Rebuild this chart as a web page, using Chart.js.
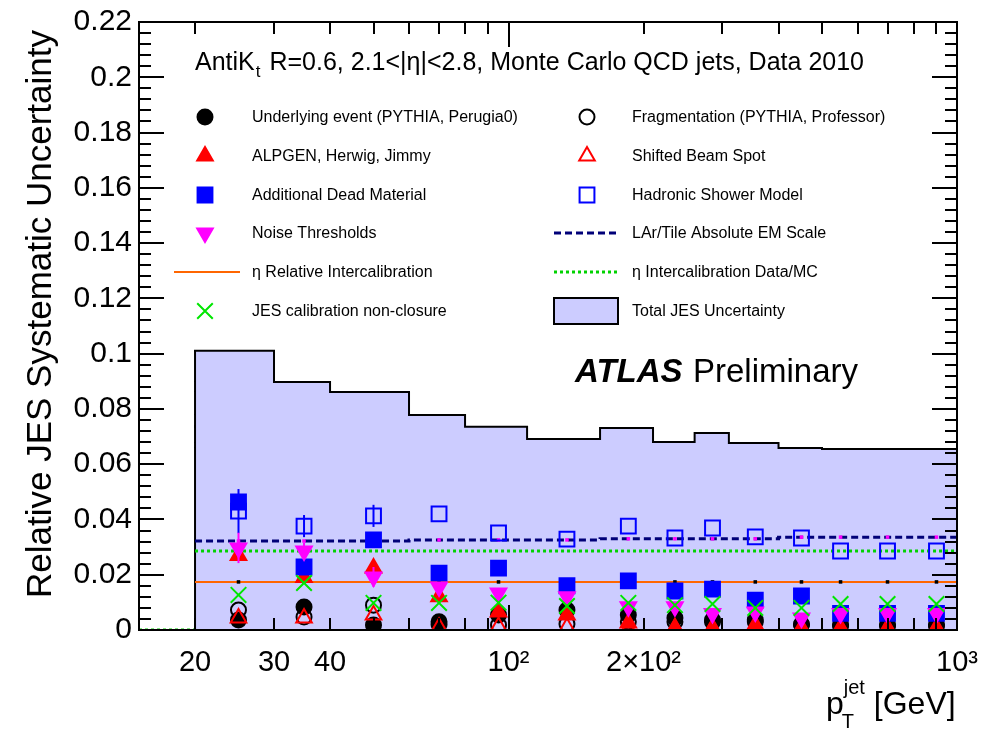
<!DOCTYPE html>
<html>
<head>
<meta charset="utf-8">
<title>JES uncertainty</title>
<script src="https://cdn.jsdelivr.net/npm/chart.js@4.4.1/dist/chart.umd.min.js"></script>
<style>
  html, body { margin: 0; padding: 0; background: #fff; }
  #wrap { width: 983px; height: 732px; }
</style>
</head>
<body>
<div id="wrap"><canvas id="jes" width="983" height="732"></canvas></div>
<script>
/* bins in pT (GeV) */
const binEdges = [20, 30, 40, 60, 80, 110, 160, 210, 260, 310, 400, 500, 600, 800, 1000];
const binCenters = [25, 35, 50, 70, 95, 135, 185, 235, 285, 355, 450, 550, 700, 900];

/* histogram-style components */
const totalJES = [0.101, 0.0897, 0.0861, 0.0778, 0.0735, 0.0691, 0.0731, 0.068, 0.0713, 0.0677, 0.0659, 0.0655, 0.0655, 0.0655];
const larTileEM = [0.0322, 0.0322, 0.0322, 0.0326, 0.0326, 0.0326, 0.033, 0.033, 0.033, 0.033, 0.0336, 0.0336, 0.0336, 0.0336];
const etaInterDataMC = [0.0286, 0.0286, 0.0286, 0.0286, 0.0286, 0.0286, 0.0286, 0.0286, 0.0286, 0.0286, 0.0286, 0.0286, 0.0286, 0.0286];
const etaRelInter = [0.0174, 0.0174, 0.0174, 0.0174, 0.0174, 0.0174, 0.0174, 0.0174, 0.0174, 0.0174, 0.0174, 0.0174, 0.0174, 0.0174];

/* marker components */
const underlyingEvent = [0.0036, 0.0083, 0.0018, 0.003, 0.0054, 0.0072, 0.0054, 0.0043, 0.003, 0.003, 0.002, 0.002, 0.002, 0.002];
const fragmentation = [0.0072, 0.0047, 0.009, 0.002, 0.0018, 0.0022, 0.003, 0.003, 0.0036, 0.0036, 0.002, 0.0015, 0.0015, 0.0015];
const alpgen = [0.027, 0.019, 0.0224, 0.012, 0.0065, 0.0054, 0.0025, 0.0008, 0.0008, 0.0018, 0.0008, 0.0008, 0.0008, 0.0008];
const beamSpot = [0.0043, 0.0043, 0.0054, 0.001, 0.0013, 0.001, 0.0005, 0.0005, 0.0005, 0.0005, 0.0004, 0.0004, 0.0004, 0.0004];
const deadMaterial = [0.0463, 0.0228, 0.0326, 0.0206, 0.0224, 0.016, 0.0178, 0.0141, 0.0148, 0.0108, 0.0123, 0.006, 0.006, 0.006];
const hadronicShower = [0.043, 0.0376, 0.0413, 0.042, 0.0351, 0.0329, 0.0376, 0.0333, 0.0369, 0.0337, 0.0333, 0.0286, 0.0286, 0.0286];
const hadronicShowerErr = [0.008, 0.004, 0.004, 0, 0, 0, 0, 0, 0, 0, 0, 0, 0, 0];
const noiseThresholds = [0.0297, 0.0286, 0.0192, 0.0156, 0.0134, 0.012, 0.0084, 0.0084, 0.006, 0.0065, 0.0043, 0.006, 0.006, 0.006];
const noiseThresholdsErr = [0.0055, 0.003, 0.0036, 0, 0, 0, 0, 0, 0, 0, 0, 0, 0, 0];
const nonClosure = [0.0127, 0.017, 0.0098, 0.0098, 0.0099, 0.0087, 0.0098, 0.009, 0.0094, 0.008, 0.008, 0.0094, 0.0094, 0.0094];

/* axis labels */
const xTickValues = [20, 30, 40, 100, 200, 1000];
const xTickLabels = ['20', '30', '40', '10\u00b2', '2\u00d710\u00b2', '10\u00b3'];

const FONT = '"Liberation Sans", Arial, Helvetica, sans-serif';

// step outline of the total band, rising at 20 GeV
function bandPoints(vals) {
  const pts = [{x: binEdges[0], y: 0}];
  vals.forEach((v, i) => pts.push({x: binEdges[i], y: v}));
  pts.push({x: binEdges[binEdges.length - 1], y: vals[vals.length - 1]});
  return pts;
}

// flat per-bin lines; optional zero stretch below 20 GeV
function stepPoints(vals, withUnderflow) {
  const pts = [];
  if (withUnderflow) pts.push({x: 15, y: 0}, {x: 20, y: 0}, {x: 20, y: null});
  vals.forEach((v, i) => pts.push({x: binEdges[i], y: v}));
  pts.push({x: binEdges[binEdges.length - 1], y: vals[vals.length - 1]});
  return pts;
}

function centerPoints(vals) {
  return binCenters.map((x, i) => ({x: x, y: vals[i]}));
}

function markerSet(label, vals, opts) {
  return Object.assign({
    type: 'scatter',
    label: label,
    data: centerPoints(vals),
    showLine: false,
    pointBorderWidth: 2
  }, opts);
}

const datasets = [
  { // 0
    type: 'line', label: 'Total JES Uncertainty', data: bandPoints(totalJES),
    stepped: 'before', fill: 'origin', backgroundColor: 'rgb(204,204,255)',
    borderColor: '#000', borderWidth: 2, pointRadius: 0, order: 100
  },
  { // 1
    type: 'line', label: 'LAr/Tile Absolute EM Scale', data: stepPoints(larTileEM, false),
    stepped: 'before', fill: false, borderColor: 'rgb(0,0,120)', borderWidth: 3,
    borderDash: [7, 4], pointRadius: 0, order: 60
  },
  { // 2
    type: 'line', label: '\u03b7 Relative Intercalibration', data: stepPoints(etaRelInter, true),
    stepped: 'before', fill: false, borderColor: 'rgb(255,102,0)', borderWidth: 2,
    pointRadius: 0, order: 61
  },
  { // 3
    type: 'line', label: '\u03b7 Intercalibration Data/MC', data: stepPoints(etaInterDataMC, true),
    stepped: 'before', fill: false, borderColor: 'rgb(0,210,0)', borderWidth: 3,
    borderDash: [3, 3], pointRadius: 0, order: 59
  },
  // small bin-centre dots sitting on the flat lines
  markerSet('', etaRelInter, {pointStyle: 'rect', pointRadius: 2.5, pointBorderWidth: 0,
    pointBackgroundColor: '#000', order: 58}),
  markerSet('', larTileEM, {pointStyle: 'rect', pointRadius: 2.5, pointBorderWidth: 0,
    pointBackgroundColor: 'rgb(255,0,255)', order: 58}),
  // 6..
  markerSet('Underlying event (PYTHIA, Perugia0)', underlyingEvent, {
    pointStyle: 'circle', pointRadius: 7.5, pointBackgroundColor: '#000', pointBorderColor: '#000', order: 20}),
  markerSet('Fragmentation (PYTHIA, Professor)', fragmentation, {
    pointStyle: 'circle', pointRadius: 7.5, pointBackgroundColor: 'rgba(0,0,0,0)', pointBorderColor: '#000', order: 19}),
  markerSet('ALPGEN, Herwig, Jimmy', alpgen, {
    pointStyle: 'triangle', pointRadius: 9, pointBackgroundColor: '#f00', pointBorderColor: '#f00', order: 18}),
  markerSet('Shifted Beam Spot', beamSpot, {
    pointStyle: 'triangle', pointRadius: 9, pointBackgroundColor: 'rgba(0,0,0,0)', pointBorderColor: '#f00', order: 17}),
  markerSet('Additional Dead Material', deadMaterial, {
    pointStyle: 'rect', pointRadius: 10.5, pointBackgroundColor: '#00f', pointBorderColor: '#00f', order: 16}),
  markerSet('Hadronic Shower Model', hadronicShower, {
    pointStyle: 'rect', pointRadius: 10.5, pointBackgroundColor: 'rgba(0,0,0,0)', pointBorderColor: '#00f',
    errors: hadronicShowerErr, order: 15}),
  markerSet('Noise Thresholds', noiseThresholds, {
    pointStyle: 'triangle', pointRotation: 180, pointRadius: 9, pointBackgroundColor: '#f0f', pointBorderColor: '#f0f',
    errors: noiseThresholdsErr, order: 14}),
  markerSet('JES calibration non-closure', nonClosure, {
    pointStyle: 'crossRot', pointRadius: 11, pointBorderColor: 'rgb(0,230,0)', pointBorderWidth: 2, order: 13})
];

// legend layout: [dataset index, column, row]
const legendRows = [117, 156, 195, 233, 272, 311];
const legendItems = [
  [6, 0, 0], [8, 0, 1], [10, 0, 2], [12, 0, 3], [2, 0, 4], [13, 0, 5],
  [7, 1, 0], [9, 1, 1], [11, 1, 2], [1, 1, 3], [3, 1, 4], [0, 1, 5]
];
const legendCols = [{sym: 205, text: 252, line: [174, 240]}, {sym: 587, text: 632, line: [554, 618]}];

// vertical error bars, drawn just before their markers
const errorBars = {
  id: 'errorBars',
  beforeDatasetDraw(chart, args) {
    const ds = chart.data.datasets[args.index];
    if (!ds.errors) return;
    const ctx = chart.ctx, xs = chart.scales.x, ys = chart.scales.y;
    ctx.save();
    ctx.strokeStyle = ds.pointBorderColor;
    ctx.lineWidth = 2;
    ds.data.forEach((p, i) => {
      const e = ds.errors[i];
      if (!e) return;
      const px = xs.getPixelForValue(p.x);
      ctx.beginPath();
      ctx.moveTo(px, ys.getPixelForValue(p.y - e));
      ctx.lineTo(px, ys.getPixelForValue(p.y + e));
      ctx.stroke();
    });
    ctx.restore();
  }
};

// frame, inward ticks, texts and legend
const decorations = {
  id: 'decorations',
  afterDraw(chart) {
    const ctx = chart.ctx, a = chart.chartArea, xs = chart.scales.x, ys = chart.scales.y;
    ctx.save();
    ctx.strokeStyle = '#000';
    ctx.fillStyle = '#000';
    ctx.lineWidth = 2;
    ctx.strokeRect(a.left, a.top, a.right - a.left, a.bottom - a.top);

    ctx.beginPath();
    for (let k = 0; k <= 55; k++) {
      const v = k * 0.004;
      const py = Math.round(ys.getPixelForValue(v));
      const len = (k % 5 === 0) ? 25 : 12;
      ctx.moveTo(a.left, py); ctx.lineTo(a.left + len, py);
      ctx.moveTo(a.right, py); ctx.lineTo(a.right - len, py);
    }
    [10, 100].forEach(dec => {
      for (let m = 1; m <= 9; m++) {
        const v = m * dec;
        if (v < 20 || v > 1000) continue;
        const px = Math.round(xs.getPixelForValue(v));
        const len = (m === 1) ? 25 : 12;
        ctx.moveTo(px, a.bottom); ctx.lineTo(px, a.bottom - len);
        ctx.moveTo(px, a.top); ctx.lineTo(px, a.top + len);
      }
    });
    ctx.stroke();

    // header line
    ctx.textBaseline = 'alphabetic';
    ctx.textAlign = 'left';
    ctx.font = '25px ' + FONT;
    let x = 195;
    ctx.fillText('AntiK', x, 70);
    x += ctx.measureText('AntiK').width;
    ctx.font = '17px ' + FONT;
    ctx.fillText('t', x + 1, 77);
    x += ctx.measureText('t').width + 3;
    ctx.font = '25px ' + FONT;
    ctx.fillText(' R=0.6, 2.1<|\u03b7|<2.8, Monte Carlo QCD jets, Data 2010', x, 70);

    // experiment label
    ctx.font = 'italic bold 33px ' + FONT;
    ctx.fillText('ATLAS', 575, 382);
    ctx.font = '33px ' + FONT;
    ctx.fillText('Preliminary', 693, 382);

    // legend
    ctx.font = '16px ' + FONT;
    legendItems.forEach(([idx, col, row]) => {
      const ds = chart.data.datasets[idx];
      const c = legendCols[col];
      const y = legendRows[row];
      ctx.save();
      if (ds.type === 'scatter') {
        ctx.fillStyle = ds.pointBackgroundColor || 'rgba(0,0,0,0)';
        ctx.strokeStyle = ds.pointBorderColor;
        ctx.lineWidth = ds.pointBorderWidth;
        Chart.helpers.drawPoint(ctx, {
          pointStyle: ds.pointStyle, radius: ds.pointRadius,
          rotation: ds.pointRotation || 0, borderWidth: ds.pointBorderWidth
        }, c.sym, y);
      } else if (ds.fill) {
        ctx.fillStyle = ds.backgroundColor;
        ctx.fillRect(c.line[0], y - 13, c.line[1] - c.line[0], 26);
        ctx.lineWidth = 2;
        ctx.strokeStyle = '#000';
        ctx.strokeRect(c.line[0], y - 13, c.line[1] - c.line[0], 26);
      } else {
        ctx.strokeStyle = ds.borderColor;
        ctx.lineWidth = ds.borderWidth;
        ctx.setLineDash(ds.borderDash || []);
        ctx.beginPath();
        ctx.moveTo(c.line[0], y); ctx.lineTo(c.line[1], y);
        ctx.stroke();
      }
      ctx.restore();
      ctx.fillText(ds.label, c.text, y + 5);
    });

    // y axis title
    ctx.save();
    ctx.font = '35px ' + FONT;
    ctx.translate(51, 314);
    ctx.rotate(-Math.PI / 2);
    ctx.textAlign = 'center';
    ctx.fillText('Relative JES Systematic Uncertainty', 0, 0);
    ctx.restore();

    // x axis title: p_T^jet [GeV]
    ctx.font = '32px ' + FONT;
    ctx.textAlign = 'left';
    x = 826;
    ctx.fillText('p', x, 714);
    const pw = ctx.measureText('p').width;
    ctx.font = '20px ' + FONT;
    ctx.fillText('jet', x + pw, 694);
    ctx.fillText('T', x + pw - 2, 728);
    const jw = ctx.measureText('jet').width;
    ctx.font = '32px ' + FONT;
    ctx.fillText(' [GeV]', x + pw + jw, 714);
    ctx.restore();
  }
};

new Chart(document.getElementById('jes'), {
  type: 'scatter',
  data: { datasets: datasets },
  options: {
    responsive: false,
    animation: false,
    events: [],
    layout: { padding: { top: 22, right: 26, left: 0, bottom: 0 } },
    plugins: { legend: { display: false }, tooltip: { enabled: false } },
    scales: {
      x: {
        type: 'logarithmic', min: 15, max: 1000,
        grid: { display: false, drawTicks: false },
        border: { display: false },
        afterFit: s => { s.height = 102; s.paddingLeft = 0; s.paddingRight = 0; },
        afterBuildTicks: s => { s.ticks = xTickValues.map(v => ({value: v})); },
        ticks: {
          autoSkip: false, maxRotation: 0, padding: 16, color: '#000',
          font: { family: FONT, size: 29 },
          callback: v => xTickLabels[xTickValues.indexOf(v)]
        }
      },
      y: {
        min: 0, max: 0.22,
        grid: { display: false, drawTicks: false },
        border: { display: false },
        afterFit: s => { s.width = 139; s.paddingTop = 0; s.paddingBottom = 0; },
        ticks: {
          stepSize: 0.02, padding: 7, color: '#000',
          font: { family: FONT, size: 30 },
          callback: v => String(Number(v.toFixed(2)))
        }
      }
    }
  },
  plugins: [errorBars, decorations]
});
</script>
</body>
</html>
